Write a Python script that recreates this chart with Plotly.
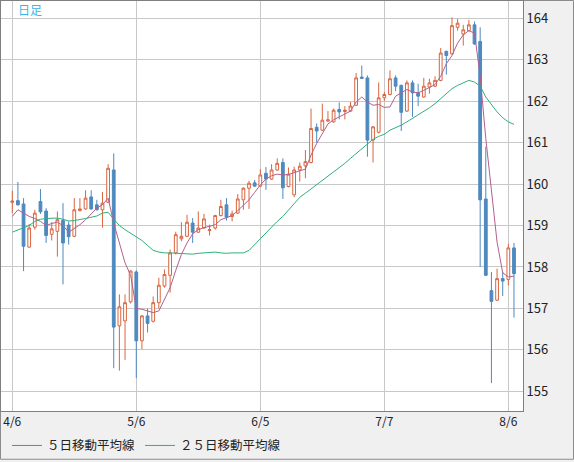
import plotly.graph_objs as go

# daily OHLC (oldest -> newest)
opens = [159.56, 159.60, 159.52, 158.48, 158.96, 159.58, 159.35, 158.79, 158.86, 159.12,
         159.01, 158.74, 159.36, 159.40, 159.69, 159.50, 159.38, 159.56, 160.34, 156.58,
         156.70, 157.16, 157.88, 156.22, 156.82, 156.69, 157.14, 157.54, 157.80, 158.34,
         158.68, 158.74, 159.06, 158.84, 158.94, 158.88, 158.94, 159.24, 159.50, 159.22,
         159.30, 159.62, 159.90, 160.03, 159.95, 160.26, 160.12, 160.34, 160.52, 159.94,
         159.74, 160.34, 160.44, 160.52, 161.37, 161.30, 161.52, 161.50, 161.80, 161.75,
         161.76, 161.90, 162.58, 162.56, 161.06, 161.25, 162.08, 162.16, 162.56, 162.38,
         161.76, 162.44, 162.20, 162.10, 162.34, 162.36, 162.50, 163.20, 163.14, 163.78,
         163.62, 163.70, 163.84, 163.44, 159.64, 157.43, 157.20, 157.72, 157.70, 158.46]
highs = [159.84, 160.05, 159.66, 159.04, 159.38, 159.88, 159.42, 159.08, 159.34, 159.54,
         159.10, 159.66, 159.66, 159.85, 159.85, 159.62, 159.81, 160.48, 160.74, 157.34,
         157.34, 157.92, 157.92, 156.84, 157.00, 157.29, 157.74, 157.94, 158.42, 158.85,
         159.08, 159.26, 159.18, 159.34, 159.28, 159.02, 159.26, 159.62, 159.66, 159.36,
         159.76, 159.92, 160.08, 160.10, 160.36, 160.41, 160.48, 160.62, 160.62, 160.40,
         160.42, 160.52, 160.82, 161.82, 161.46, 161.94, 161.76, 161.82, 161.97, 161.88,
         161.98, 162.68, 162.86, 162.62, 161.40, 162.45, 162.22, 162.74, 162.62, 162.40,
         162.50, 162.50, 162.42, 162.56, 162.54, 162.60, 163.28, 163.22, 164.02, 163.98,
         163.84, 163.96, 163.92, 163.78, 160.90, 157.88, 157.96, 157.88, 158.56, 158.58]
lows = [159.30, 159.48, 157.90, 158.46, 158.90, 159.28, 158.58, 158.64, 158.25, 157.58,
        158.54, 158.72, 159.34, 159.38, 159.38, 159.36, 158.95, 159.54, 155.56, 155.50,
        155.76, 157.12, 155.32, 156.02, 156.42, 156.66, 157.00, 157.50, 157.38, 158.30,
        158.62, 158.72, 158.58, 158.82, 158.92, 158.76, 158.90, 159.22, 159.12, 159.10,
        159.28, 159.38, 159.40, 159.94, 159.93, 159.86, 160.10, 160.32, 159.64, 159.92,
        159.68, 160.06, 160.14, 160.50, 161.00, 161.28, 161.50, 161.48, 161.56, 161.56,
        161.74, 161.88, 162.54, 160.66, 160.52, 161.22, 162.00, 162.14, 162.24, 161.28,
        161.74, 161.62, 161.88, 162.08, 162.18, 162.34, 162.48, 162.64, 163.12, 163.70,
        163.34, 163.68, 163.36, 158.00, 157.78, 155.20, 157.18, 157.30, 157.56, 156.78]
closes = [159.59, 159.50, 158.50, 158.94, 159.30, 159.33, 158.76, 158.92, 159.14, 158.58,
          158.73, 159.38, 159.40, 159.66, 159.40, 159.38, 159.54, 160.38, 156.55, 157.04,
          157.14, 157.90, 156.22, 156.82, 156.64, 157.14, 157.56, 157.82, 158.34, 158.78,
          158.74, 159.08, 158.84, 158.94, 159.16, 158.90, 159.24, 159.46, 159.20, 159.28,
          159.64, 159.90, 160.02, 159.95, 160.22, 160.12, 160.34, 160.50, 159.91, 160.24,
          160.34, 160.43, 160.54, 161.34, 161.28, 161.54, 161.55, 161.78, 161.74, 161.78,
          161.88, 162.56, 162.55, 161.06, 161.38, 162.08, 162.16, 162.54, 162.36, 161.73,
          162.44, 162.20, 162.12, 162.36, 162.44, 162.50, 163.16, 163.10, 163.82, 163.88,
          163.72, 163.84, 163.38, 159.62, 157.80, 157.17, 157.72, 157.66, 158.46, 157.84]

# moving averages as drawn on the chart
ma5 = [159.22, 159.38, 159.30, 159.22, 159.17, 159.10, 159.00, 159.05, 159.08, 159.00,
       158.84, 158.92, 159.02, 159.14, 159.28, 159.42, 159.50, 159.66, 159.06, 158.56,
       158.10, 157.80, 157.00, 156.98, 156.94, 156.90, 156.94, 157.22, 157.50, 157.92,
       158.30, 158.58, 158.80, 158.90, 158.95, 158.98, 159.02, 159.14, 159.20, 159.24,
       159.36, 159.50, 159.62, 159.80, 159.98, 160.12, 160.20, 160.24, 160.22, 160.23,
       160.28, 160.32, 160.36, 160.70, 160.98, 161.20, 161.45, 161.55, 161.62, 161.70,
       161.76, 161.98, 162.10, 161.98, 161.90, 161.92, 161.85, 161.86, 162.12, 162.20,
       162.28, 162.22, 162.20, 162.26, 162.34, 162.40, 162.60, 162.90, 163.10, 163.40,
       163.60, 163.70, 163.64, 162.60, 161.10, 159.90, 158.60, 157.86, 157.76, 157.78]
ma25 = [158.84, 158.89, 158.94, 159.00, 159.10, 159.15, 159.17, 159.18, 159.18, 159.15,
        159.11, 159.12, 159.14, 159.17, 159.20, 159.23, 159.30, 159.32, 159.15, 159.00,
        158.90, 158.82, 158.74, 158.64, 158.52, 158.40, 158.36, 158.34, 158.34, 158.33,
        158.32, 158.31, 158.31, 158.33, 158.34, 158.35, 158.36, 158.34, 158.33, 158.34,
        158.34, 158.34, 158.40, 158.54, 158.68, 158.84, 158.98, 159.10, 159.22, 159.38,
        159.52, 159.68, 159.78, 159.88, 159.98, 160.08, 160.18, 160.30, 160.40, 160.50,
        160.62, 160.74, 160.86, 160.98, 161.08, 161.15, 161.20, 161.30, 161.36, 161.42,
        161.50, 161.58, 161.66, 161.76, 161.84, 161.94, 162.06, 162.20, 162.30, 162.38,
        162.44, 162.50, 162.46, 162.36, 162.10, 161.92, 161.74, 161.60, 161.50, 161.44]

tick_pos = [0, 22, 44, 66, 88]
tick_labels = ['4/6', '5/6', '6/5', '7/7', '8/6']

x = list(range(len(closes)))

FONT = 'Noto Sans CJK JP'
UP = '#d9663f'
DOWN = '#4e89bf'

candles = go.Candlestick(
    x=x, open=opens, high=highs, low=lows, close=closes,
    increasing=dict(line=dict(color=UP, width=1), fillcolor='white'),
    decreasing=dict(line=dict(color=DOWN, width=1), fillcolor=DOWN),
    showlegend=False, hoverinfo='none'
)

line5 = go.Scatter(x=x, y=ma5, mode='lines', name='５日移動平均線',
                   line=dict(color='#b3608a', width=1), hoverinfo='none')
line25 = go.Scatter(x=x, y=ma25, mode='lines', name='２５日移動平均線',
                    line=dict(color='#2fb07a', width=1), hoverinfo='none')

# plot area: 1..523 px wide, 1..413 px high
pw, ph = 522, 412

layout = go.Layout(
    width=574, height=462,
    margin=dict(l=1, r=51, t=1, b=49),
    paper_bgcolor='#f0f0f0', plot_bgcolor='white',
    font=dict(family=FONT, size=12, color='#222222'),
    xaxis=dict(range=[-2.0, 90.6], tickvals=tick_pos, ticktext=tick_labels,
               showgrid=True, gridcolor='#c8c8c8', gridwidth=1, zeroline=False,
               showline=True, mirror=True, linecolor='#7f7f7f', linewidth=1,
               ticks='', rangeslider=dict(visible=False), fixedrange=True,
               automargin=False),
    yaxis=dict(range=[154.527, 164.415], side='right', dtick=1, tick0=155,
               showgrid=True, gridcolor='#c8c8c8', gridwidth=1, zeroline=False,
               showline=True, mirror=True, linecolor='#7f7f7f', linewidth=1,
               ticks='', fixedrange=True, automargin=False,
               tickfont=dict(size=13)),
    showlegend=True,
    legend=dict(orientation='h', x=(7 - 1) / pw, xanchor='left',
                y=1 - (448 - 1) / ph, yanchor='middle',
                font=dict(family=FONT, size=12.5, color='#222222'),
                bgcolor='rgba(0,0,0,0)', borderwidth=0),
    annotations=[dict(text='日足', xref='paper', yref='paper',
                      x=(16 - 1) / pw, y=1 - (10 - 1) / ph,
                      xanchor='left', yanchor='middle', showarrow=False,
                      font=dict(family=FONT, size=12, color='#3bb4e8'))],
    shapes=[dict(type='rect', xref='paper', yref='paper',
                 x0=-0.5 / pw, x1=(573.5 - 1) / pw,
                 y0=1 - (461.5 - 1) / ph, y1=1 + 0.5 / ph,
                 line=dict(color='#8c8c8c', width=1), layer='below')],
    hovermode=False
)

fig = go.Figure(data=[candles, line5, line25], layout=layout)
# drop the browser's default page margin so the figure sits at 0,0
fig.write_html("out.html", config={'displayModeBar': False},
               post_script="document.body.style.margin='0';")
